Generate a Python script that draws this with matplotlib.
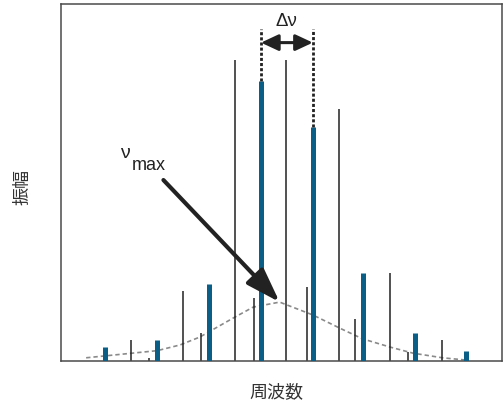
import matplotlib
matplotlib.use("Agg")
import matplotlib.pyplot as plt

# ---- data (arbitrary frequency units, Δν ≈ 10; amplitude 0-100) ----
l0_freq = [8.5, 18.5, 28.5, 38.6, 48.6, 58.3, 68.3, 78.2]
l0_amp = [3.8, 5.9, 21.6, 78.4, 65.6, 24.6, 7.9, 2.9]

l1_freq = [13.5, 23.6, 33.6, 43.5, 53.6, 63.5, 73.5]
l1_amp = [5.9, 19.6, 84.3, 84.3, 70.6, 24.6, 5.9]

l2_freq = [17.0, 27.1, 37.2, 47.4, 56.8, 67.0]
l2_amp = [0.9, 7.9, 17.7, 20.6, 11.8, 2.6]

env_freq = [4.9, 18.6, 23.0, 26.8, 33.2, 37.1, 42.2, 48.6, 53.8, 58.2, 63.5, 67.9, 73.6, 77.9]
env_amp = [0.9, 2.9, 4.5, 6.7, 12.0, 15.1, 16.5, 12.9, 9.2, 6.2, 3.9, 2.2, 0.9, 0.3]

numax = (42.2, 16.5)
dnu_pair = (38.6, 48.6)

xlabel = "周波数"
ylabel = "振幅"

BLUE = "#0b5f86"
BLACK = "#222222"
LATIN = ["Liberation Sans", "DejaVu Sans"]
CJK = ["Noto Sans CJK JP", "DejaVu Sans"]

fig = plt.figure(figsize=(5.03, 4.07), dpi=100)
ax = fig.add_axes([0.1207, 0.113, 0.8767, 0.877])
ax.set_xlim(0, 85)
ax.set_ylim(0, 100)
ax.set_xticks([])
ax.set_yticks([])
for s in ax.spines.values():
    s.set_color("#4a4a4a")
    s.set_linewidth(1.1)

# envelope
ax.plot(env_freq, env_amp, ls=(0, (2.6, 1.8)), color="#8a8a8a", lw=1.2, zorder=1)

# modes
ax.vlines(l1_freq, 0, l1_amp, color=BLACK, lw=1.1, zorder=2)
ax.vlines(l2_freq, 0, l2_amp, color=BLACK, lw=1.1, zorder=2)
ax.vlines(l0_freq, 0, l0_amp, color=BLUE, lw=3.6, zorder=3)

# Δν dashed guides
top_guide = 93.0
for f, a in zip(l0_freq, l0_amp):
    if f in dnu_pair:
        ax.plot([f, f], [a, top_guide], color=BLACK, lw=2.0,
                ls=(0, (1.1, 0.75)), zorder=3)

ax.annotate("", xy=(dnu_pair[1], 89.2), xytext=(dnu_pair[0], 89.2),
            arrowprops=dict(arrowstyle="<|-|>,head_length=0.75,head_width=0.35",
                            color=BLACK, lw=2.2, shrinkA=0, shrinkB=0,
                            mutation_scale=14), zorder=4)
ax.text((dnu_pair[0] + dnu_pair[1]) / 2, 95.2, "Δν", ha="center", va="center",
        fontsize=13.5, family=LATIN, color=BLACK)

# νmax arrow
ax.annotate("", xy=numax, xytext=(19.8, 50.7),
            arrowprops=dict(arrowstyle="-|>,head_length=1.5,head_width=0.5",
                            color=BLACK, lw=3.0, shrinkA=0, shrinkB=0,
                            mutation_scale=14), zorder=5)
ax.text(11.4, 56.9, "ν", ha="left", va="baseline", fontsize=14,
        family=LATIN, color=BLACK)
ax.text(13.7, 53.5, "max", ha="left", va="baseline", fontsize=13,
        family=LATIN, color=BLACK)

fig.text(0.549, 0.037, xlabel, ha="center", va="center", fontsize=13,
         family=CJK, color="#333333")
fig.text(0.044, 0.541, ylabel, ha="center", va="center", fontsize=13,
         rotation=90, family=CJK, color="#333333")

fig.savefig("out.png", dpi=100)
